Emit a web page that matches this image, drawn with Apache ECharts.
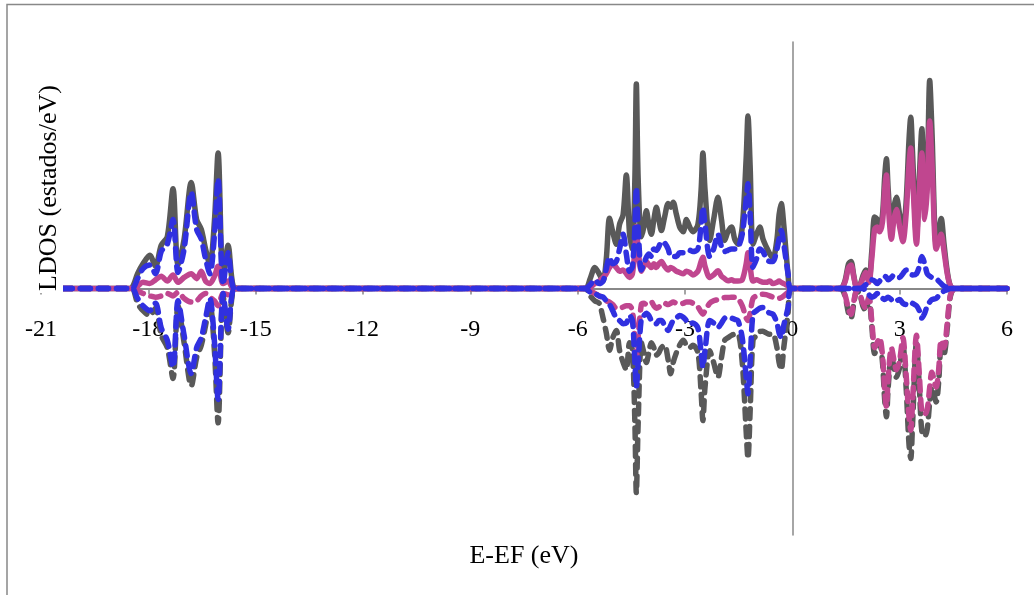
<!DOCTYPE html>
<html>
<head>
<meta charset="utf-8">
<script src="https://cdn.jsdelivr.net/npm/echarts@6/dist/echarts.min.js"></script>
<style>
  html, body { margin: 0; padding: 0; background: #fff; }
  #chart { width: 1034px; height: 595px; }
</style>
</head>
<body>
<div id="chart"></div>
<script>
// energies (eV) of each block of the LDOS
const energy1 = [-20.4, -18.6, -18.45, -18.3, -18.15, -17.96, -17.8, -17.64, -17.47, -17.31, -17.17, -17.0, -16.8, -16.65, -16.52, -16.4, -16.28, -16.15, -16.05, -15.91, -15.77, -15.63, -15.45];
const energy2 = [-6.1, -5.78, -5.65, -5.52, -5.40, -5.29, -5.20, -5.11, -5.02, -4.92,
  -4.83, -4.73, -4.64, -4.55, -4.47, -4.40, -4.36, -4.31, -4.22, -4.15,
  -4.08, -4.01, -3.94, -3.87, -3.80, -3.73, -3.66, -3.57, -3.47, -3.40,
  -3.33, -3.24, -3.15, -3.05, -2.96, -2.87, -2.78, -2.64, -2.55, -2.50,
  -2.44, -2.31, -2.20, -2.08, -1.98, -1.89, -1.80, -1.70, -1.61, -1.52,
  -1.40, -1.29, -1.24, -1.18, -1.10, -1.00, -0.91, -0.82, -0.73, -0.63,
  -0.54, -0.43, -0.37, -0.31, -0.24, -0.12, -0.04];
const energy3 = [1.1, 1.35, 1.47, 1.57, 1.64, 1.72, 1.80, 1.88, 1.97, 2.05,
  2.14, 2.22, 2.30, 2.37, 2.44, 2.52, 2.58, 2.63, 2.68, 2.77,
  2.84, 2.91, 3.00, 3.09, 3.18, 3.26, 3.31, 3.36, 3.47, 3.55,
  3.62, 3.70, 3.77, 3.84, 3.90, 4.02, 4.09, 4.16, 4.24, 4.33,
  4.42, 4.55, 6.0];

// total (gray)
const totUp1 = [0, 0, 0.05, 0.6, 1.0, 1.35, 0.9, 1.75, 2.1, 4.05, 0.95, 2.0, 4.3, 2.8, 2.4, 1.6, 0.95, 2.8, 5.5, 0.4, 1.75, 0.1, 0];
const totDn1 = [0, 0, 0, -0.6, -0.9, -1.1, -0.8, -1.9, -2.4, -3.65, -0.7, -2.2, -3.95, -2.8, -2.3, -1.5, -0.6, -2.6, -5.45, -0.3, -1.8, -0.1, 0];
const totUp2 = [0, 0, 0.4, 0.85, 0.6, 0.3, 1.2, 2.85, 2.3, 1.8,
  2.6, 3.0, 4.6, 2.2, 1.6, 4.5, 8.3, 4.5, 2.1, 2.5,
  3.15, 2.6, 2.2, 2.8, 3.3, 2.8, 2.35, 2.9, 3.45, 3.3,
  3.5, 3.0, 2.5, 2.3, 2.8, 2.5, 2.3, 2.6, 4.0, 5.5,
  4.0, 1.95, 2.8, 3.7, 2.8, 1.95, 2.3, 2.5, 2.0, 1.8,
  2.5, 5.3, 7.0, 5.0, 1.8, 2.2, 2.5, 2.0, 1.7, 1.4,
  1.25, 2.0, 3.0, 3.45, 2.6, 0.6, 0];
const totDn2 = [0, 0, -0.3, -0.5, -0.6, -1.2, -1.8, -2.5, -2.0, -1.7,
  -2.5, -3.0, -3.3, -2.2, -2.5, -5.5, -8.3, -5.5, -2.2, -2.6,
  -3.0, -2.6, -2.2, -2.4, -2.7, -2.6, -2.4, -2.3, -2.9, -3.46,
  -3.0, -2.6, -2.3, -2.1, -2.3, -2.4, -2.3, -2.6, -4.2, -5.36,
  -4.0, -2.53, -3.0, -3.6, -2.8, -2.1, -2.0, -1.9, -1.86, -1.86,
  -3.0, -5.8, -6.9, -5.0, -2.1, -1.9, -1.75, -1.73, -1.8, -1.86,
  -1.86, -2.4, -3.0, -3.3, -2.4, -1.0, 0];
const totUp3 = [0, 0, 0.3, 1.0, 1.1, 0.5, 0.05, 0.1, 0.5, 0.75,
  0.3, 1.5, 2.9, 2.8, 2.5, 3.0, 4.5, 5.26, 4.0, 2.4,
  3.3, 3.7, 3.0, 2.3, 3.5, 6.0, 6.95, 5.5, 2.1, 4.5,
  6.48, 3.2, 4.5, 8.44, 6.5, 1.82, 2.3, 2.84, 1.8, 0.7,
  0.1, 0, 0];
const totDn3 = [0, 0, -0.3, -1.0, -1.2, -0.6, -0.1, -0.2, -0.7, -0.9,
  -0.4, -1.5, -2.64, -2.4, -2.2, -3.0, -4.5, -5.2, -4.0, -2.7,
  -3.2, -3.6, -3.2, -2.3, -4.0, -6.3, -6.9, -5.5, -2.2, -4.0,
  -5.8, -6.0, -5.7, -4.6, -4.0, -4.6, -3.8, -2.4, -2.64, -1.6,
  -0.3, 0, 0];

// magenta component
const magUp1 = [0, 0, 0, 0.1, 0.25, 0.2, 0.35, 0.5, 0.3, 0.55, 0.25, 0.45, 0.6, 0.4, 0.7, 0.3, 0.2, 0.5, 0.9, 0.2, 0.3, 0, 0];
const magDn1 = [0, 0, 0, -0.1, -0.2, -0.3, -0.35, -0.3, -0.2, -0.3, -0.15, -0.4, -0.55, -0.5, -0.3, -0.2, -0.35, -0.5, -0.7, -0.2, -0.25, 0, 0];
const magUp2 = [0, 0, 0.05, 0.2, 0.3, 0.45, 0.6, 0.85, 1.0, 0.85,
  0.7, 0.75, 0.6, 0.45, 0.6, 1.6, 2.5, 1.6, 0.7, 0.9,
  1.1, 0.95, 0.85, 1.0, 0.85, 1.0, 1.1, 0.9, 0.75, 0.85,
  0.8, 0.7, 0.65, 0.6, 0.7, 0.65, 0.55, 0.7, 1.1, 1.27,
  0.9, 0.45, 0.55, 0.72, 0.5, 0.4, 0.31, 0.35, 0.3, 0.3,
  0.35, 1.0, 1.45, 0.9, 0.3, 0.35, 0.3, 0.25, 0.25, 0.3,
  0.2, 0.25, 0.3, 0.25, 0.2, 0.1, 0];
const magDn2 = [0, 0, -0.1, -0.2, -0.3, -0.4, -0.5, -0.55, -0.65, -0.8,
  -0.8, -0.75, -0.7, -0.7, -0.9, -2.0, -2.8, -2.0, -0.65, -0.6,
  -0.65, -0.6, -0.55, -0.7, -0.8, -0.75, -0.65, -0.6, -0.65, -0.6,
  -0.55, -0.6, -0.63, -0.6, -0.55, -0.55, -0.6, -0.75, -0.95, -1.04,
  -0.9, -0.6, -0.5, -0.45, -0.4, -0.37, -0.37, -0.35, -0.35, -0.4,
  -0.7, -1.2, -1.3, -1.0, -0.4, -0.3, -0.25, -0.23, -0.25, -0.3,
  -0.35, -0.37, -0.4, -0.37, -0.3, -0.15, 0];
const magUp3 = [0, 0, 0.25, 0.85, 0.95, 0.45, 0.05, 0.1, 0.4, 0.65,
  0.25, 1.2, 2.4, 2.5, 2.3, 2.7, 4.0, 4.6, 3.4, 2.0,
  2.8, 3.2, 2.5, 1.9, 3.0, 5.0, 5.7, 4.6, 1.8, 4.0,
  5.5, 2.8, 4.0, 6.8, 5.2, 1.6, 1.9, 2.2, 1.5, 0.6,
  0.1, 0, 0];
const magDn3 = [0, 0, -0.25, -0.85, -1.05, -0.5, -0.1, -0.2, -0.6, -0.8,
  -0.35, -1.3, -2.4, -2.2, -2.0, -2.7, -4.1, -4.8, -3.6, -2.4,
  -2.9, -3.3, -2.9, -2.0, -3.5, -5.2, -5.75, -4.6, -1.9, -3.5,
  -5.0, -5.1, -4.9, -4.0, -3.4, -4.0, -3.3, -2.1, -2.4, -1.4,
  -0.25, 0, 0];

// blue component
const bluUp1 = [0, 0, 0, 0.4, 0.8, 0.95, 0.6, 1.5, 1.8, 2.8, 0.65, 1.6, 3.9, 2.4, 2.0, 1.2, 0.6, 2.2, 4.45, 0.15, 1.45, 0.05, 0];
const bluDn1 = [0, 0, 0, -0.4, -0.7, -0.9, -0.6, -1.6, -2.1, -3.2, -0.5, -1.9, -3.45, -2.4, -2.0, -1.2, -0.4, -2.2, -4.5, -0.2, -1.65, -0.05, 0];
const bluUp2 = [0, 0, 0.15, 0.35, 0.2, 0.3, 0.8, 1.27, 1.0, 1.1,
  1.6, 2.2, 1.4, 0.7, 0.9, 2.5, 4.1, 2.5, 0.75, 1.0,
  1.27, 1.4, 1.3, 1.6, 1.55, 1.7, 1.9, 1.85, 1.6, 1.3,
  1.3, 1.3, 1.45, 1.45, 1.5, 1.55, 1.5, 1.6, 2.6, 3.3,
  2.6, 1.3, 1.6, 2.2, 1.7, 1.5, 1.55, 1.6, 1.6, 1.66,
  2.2, 3.6, 4.25, 3.0, 0.85, 1.2, 1.6, 1.5, 1.2, 1.1,
  1.1, 1.6, 2.0, 2.35, 1.8, 0.6, 0];
const bluDn2 = [0, 0, -0.15, -0.2, -0.3, -0.35, -0.5, -0.65, -0.9, -1.2,
  -1.3, -1.43, -1.4, -1.1, -1.3, -3.0, -4.0, -3.0, -1.2, -1.1,
  -1.0, -1.1, -1.3, -1.4, -1.43, -1.3, -1.3, -1.5, -1.7, -1.5,
  -1.3, -1.2, -1.1, -1.17, -1.3, -1.44, -1.4, -1.6, -2.6, -3.2,
  -2.5, -1.3, -1.4, -1.58, -1.4, -1.2, -1.17, -1.2, -1.25, -1.3,
  -2.0, -3.6, -4.27, -3.0, -1.04, -0.9, -0.8, -0.77, -0.9, -1.0,
  -1.04, -1.4, -1.8, -2.0, -1.5, -0.77, 0];
const bluUp3 = [0, 0, 0, 0, 0, 0, 0, 0, 0.05, 0.15,
  0.3, 0.35, 0.3, 0.2, 0.3, 0.45, 0.5, 0.45, 0.35, 0.45,
  0.55, 0.5, 0.45, 0.6, 0.75, 0.7, 0.6, 0.55, 0.6, 0.9,
  1.3, 1.0, 0.6, 0.5, 0.45, 0.4, 0.3, 0.2, 0.1, 0.05,
  0, 0, 0];
const bluDn3 = [0, 0, 0, 0, 0, 0, 0, 0, 0, -0.1,
  -0.25, -0.35, -0.3, -0.2, -0.35, -0.4, -0.45, -0.4, -0.35, -0.45,
  -0.55, -0.5, -0.45, -0.6, -0.65, -0.6, -0.55, -0.6, -0.7, -0.9,
  -1.2, -1.0, -0.7, -0.55, -0.45, -0.4, -0.3, -0.2, -0.1, -0.05,
  0, 0, 0];

const energy = energy1.concat(energy2, energy3);
const pairs = (a, b, c) => a.concat(b, c).map((v, i) => [energy[i], v]);

const GRAY = '#595959';
const MAG = '#c0468f';
const BLUE = '#3030e0';
const FONT = '"Liberation Serif", "Times New Roman", serif';

function line(name, data, color, dashed) {
  return {
    name,
    type: 'line',
    data,
    smooth: 0.3,
    symbol: 'none',
    lineStyle: {
      color,
      width: 5.5,
      type: dashed ? [10, 8] : 'solid',
      cap: 'round',
      join: 'round'
    }
  };
}

const chart = echarts.init(document.getElementById('chart'), null, { renderer: 'canvas' });
chart.setOption({
  animation: false,
  backgroundColor: '#fff',
  grid: { left: 41, right: 27, top: 42, bottom: 60, outerBoundsMode: 'none' },
  xAxis: {
    type: 'value',
    min: -21,
    max: 6,
    interval: 3,
    // axis sits at y = 0 (middle of the symmetric y range)
    offset: -246.5,
    splitLine: { show: false },
    axisLine: { onZero: false, lineStyle: { color: '#888', width: 2 } },
    axisTick: { show: true, length: 6, lineStyle: { color: '#888', width: 1.5 } },
    axisLabel: { color: '#000', fontFamily: FONT, fontSize: 24, margin: 29 }
  },
  yAxis: {
    type: 'value',
    min: -10,
    max: 10,
    splitLine: { show: false },
    axisLine: { show: true, onZero: true, lineStyle: { color: '#888', width: 1.5 } },
    axisTick: { show: false },
    axisLabel: { show: false }
  },
  series: [
    line('Total up', pairs(totUp1, totUp2, totUp3), GRAY, false),
    line('Total down', pairs(totDn1, totDn2, totDn3), GRAY, true),
    line('Mag up', pairs(magUp1, magUp2, magUp3), MAG, false),
    line('Mag down', pairs(magDn1, magDn2, magDn3), MAG, true),
    line('Blue up', pairs(bluUp1, bluUp2, bluUp3), BLUE, true),
    line('Blue down', pairs(bluDn1, bluDn2, bluDn3), BLUE, true)
  ],
  graphic: [
    {
      type: 'rect',
      silent: true,
      shape: { x: 7, y: 4.5, width: 1200, height: 800 },
      style: { fill: 'none', stroke: '#888', lineWidth: 1.5 }
    },
    {
      type: 'text',
      x: 49,
      y: 188,
      rotation: Math.PI / 2,
      z: 100,
      style: {
        text: 'LDOS (estados/eV)',
        font: '26px ' + FONT,
        fill: '#000',
        align: 'center',
        verticalAlign: 'middle',
        backgroundColor: '#fff',
        padding: [1, 2]
      }
    },
    {
      type: 'text',
      x: 524,
      y: 556,
      style: {
        text: 'E-EF (eV)',
        font: '26px ' + FONT,
        fill: '#000',
        align: 'center',
        verticalAlign: 'middle'
      }
    }
  ]
});
</script>
</body>
</html>
